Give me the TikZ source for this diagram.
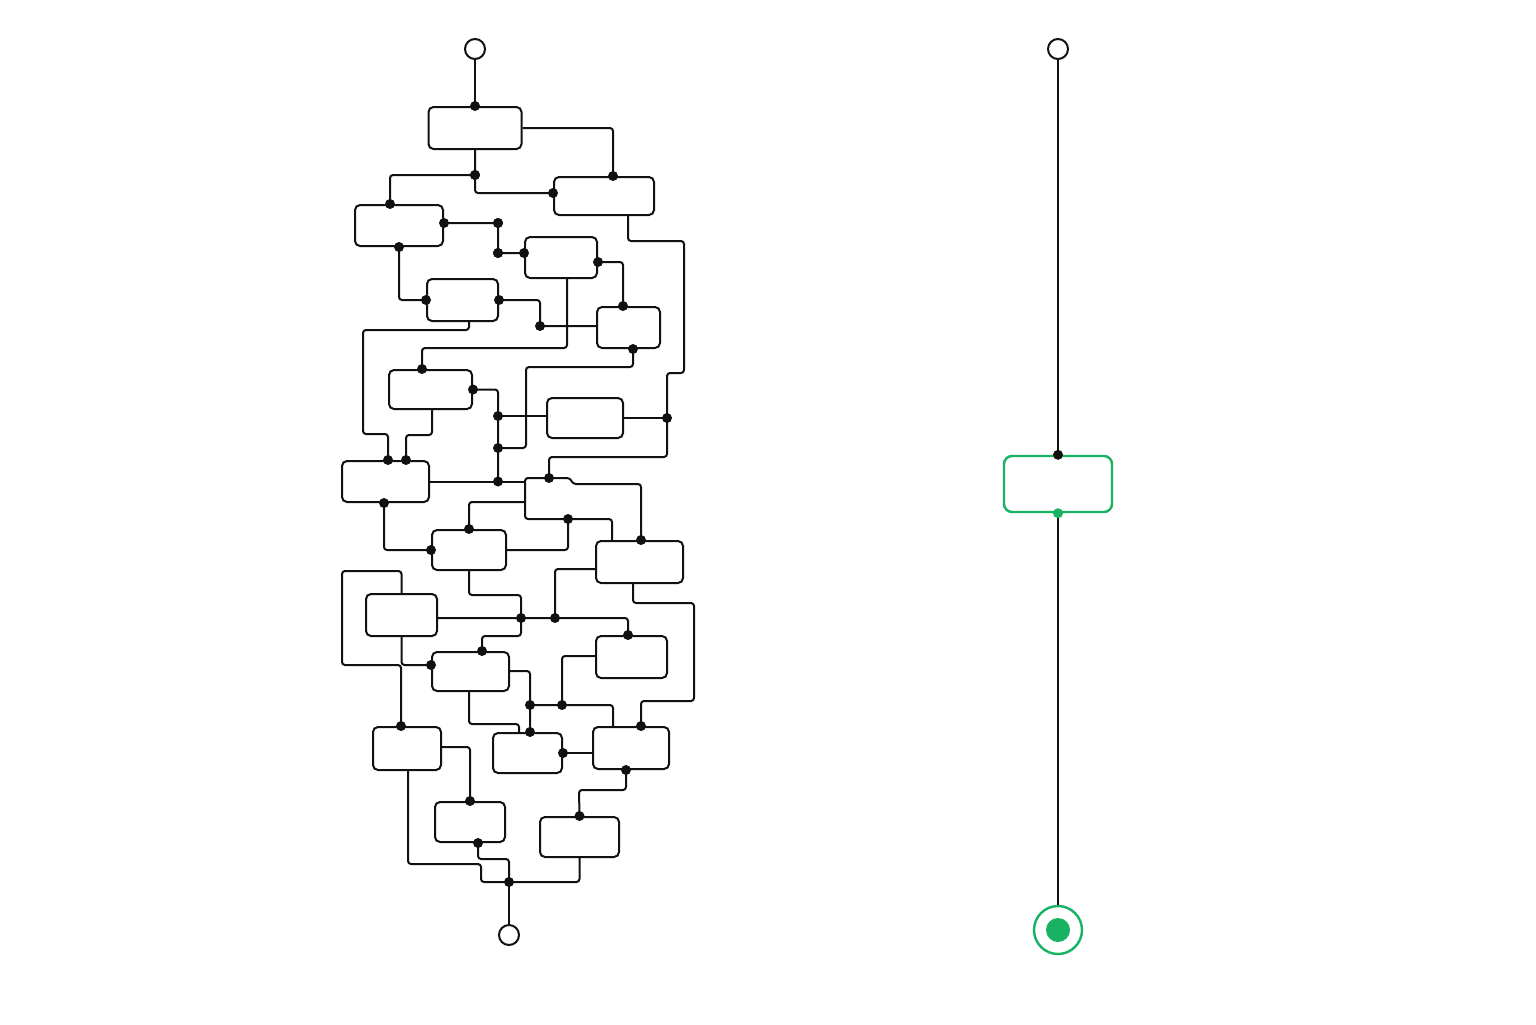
\documentclass[tikz,border=0pt]{standalone}
\usepackage{tikz}
\usetikzlibrary{calc}
\definecolor{okgreen}{RGB}{24,178,98}
\definecolor{ink}{RGB}{17,17,17}
\tikzstyle{block} = [rectangle, draw=ink, line width=1pt, rounded corners=2.5pt, inner sep=0pt]
\tikzstyle{wire} = [draw=ink, line width=1pt, rounded corners=1.5pt]
\tikzstyle{pin} = [circle, fill=ink, inner sep=0pt, minimum size=5pt]
\tikzstyle{port} = [circle, draw=ink, line width=1pt, fill=white, inner sep=0pt, minimum size=10pt]

\begin{document}
\begin{tikzpicture}[x=0.5pt, y=-0.5pt,
    okblock/.style={rectangle, draw=okgreen, line width=1.2pt, rounded corners=4pt,
        minimum width=54pt, minimum height=28pt},
    goal/.style={circle, draw=okgreen, line width=1.2pt, fill=white, minimum size=24pt}
    ]
    \useasboundingbox[fill=white] (0,0) rectangle (1536,1024);

    \node[port] (s1) at (475,49) {};
    \node[block, minimum width=46.5pt, minimum height=21pt] (b1) at (475,128) {};
    \node[block, minimum width=50pt, minimum height=19pt] (b2) at (604,196) {};
    \node[block, minimum width=44pt, minimum height=20.5pt] (b3) at (399,225.5) {};
    \node[block, minimum width=36pt, minimum height=20.5pt] (b4) at (561,257.5) {};
    \node[block, minimum width=35.5pt, minimum height=21pt] (b5) at (462.5,300) {};
    \node[block, minimum width=31.5pt, minimum height=20.5pt] (b6) at (628.5,327.5) {};
    \node[block, minimum width=41.5pt, minimum height=19.5pt] (b7) at (430.5,389.5) {};
    \node[block, minimum width=38pt, minimum height=20pt] (b8) at (585,418) {};
    \node[block, minimum width=43.5pt, minimum height=20.5pt] (b9) at (385.5,481.5) {};
    \node[block, minimum width=37pt, minimum height=20pt] (b10) at (469,550) {};
    \node[block, minimum width=43.5pt, minimum height=21pt] (b11) at (639.5,562) {};
    \node[block, minimum width=35.5pt, minimum height=21pt] (b12) at (401.5,615) {};
    \node[block, minimum width=35.5pt, minimum height=21pt] (b13) at (631.5,657) {};
    \node[block, minimum width=38.5pt, minimum height=19.5pt] (b14) at (470.5,671.5) {};
    \node[block, minimum width=34pt, minimum height=21.5pt] (b15) at (407,748.5) {};
    \node[block, minimum width=38pt, minimum height=21pt] (b16) at (631,748) {};
    \node[block, minimum width=34.5pt, minimum height=20pt] (b17) at (527.5,753) {};
    \node[block, minimum width=35pt, minimum height=20pt] (b18) at (470,822) {};
    \node[block, minimum width=39.5pt, minimum height=20pt] (b19) at (579.5,837) {};
    \node[port] (e1) at (509,935) {};

    \coordinate (j1) at (475,175);
    \coordinate (j2) at (498,223);
    \coordinate (j3) at (498,253);
    \coordinate (j4) at (540,326);
    \coordinate (j5) at (498,416);
    \coordinate (j6) at (498,448);
    \coordinate (j7) at (498,481.5);
    \coordinate (j8) at (667,418);
    \coordinate (j9) at (549,478);
    \coordinate (j10) at (568,519);
    \coordinate (j11) at (521,618);
    \coordinate (j12) at (555,618);
    \coordinate (j13) at (530,705);
    \coordinate (j14) at (562,705);
    \coordinate (j15) at (509,882);

    \draw[wire] (s1) -- (b1.north) node[pin]{};
    \draw[wire] (b1.east) -| ([xshift=4.5pt]b2.north) node[pin]{};
    \draw[wire] (b1.south) -- (j1) node[pin]{} -| ([xshift=-4.5pt]b3.north) node[pin]{};
    \draw[wire] (j1) |- ([yshift=1.5pt]b2.west) node[pin]{};
    \draw[wire] ([yshift=1.25pt]b3.east) node[pin]{} -- (j2) node[pin]{} -- (j3) node[pin]{}
        -- (j3 -| b4.west) node[pin]{};
    \draw[wire] (b3.south) node[pin]{} |- (b5.west) node[pin]{};
    \draw[wire] ([yshift=-2.25pt]b4.east) node[pin]{} -| ([xshift=-2.75pt]b6.north) node[pin]{};
    \draw[wire] ([xshift=3pt]b4.south) -- (567,348) -| ([xshift=-4.25pt]b7.north) node[pin]{};
    \draw[wire] (b5.east) node[pin]{} -| (j4) node[pin]{} -- (j4 -| b6.west);
    \draw[wire] ([xshift=3.25pt]b5.south) -- ++(0,8) -| (363,434)
        -| ([xshift=1.25pt]b9.north) node[pin]{};
    \draw[wire] ([xshift=2.25pt]b6.south) node[pin]{} |- (526,367) |- (j6);
    \draw[wire] (b7.east) node[pin]{} -| (j7);
    \draw[wire] (j5) -- (j5 -| b8.west);
    \draw[wire] ([xshift=0.75pt]b7.south) -- ++(0,25) -| ([xshift=10.25pt]b9.north) node[pin]{};
    \draw[wire] (b8.east) -- (j8);
    \draw[wire] ([xshift=12pt]b2.south) |- (684,241) |- (667,373) -- (j8) node[pin]{}
        |- (549,457) -- (j9);
    \draw[wire] ([xshift=0.75pt]b11.north) node[pin]{} |- (573,484) -- (570,478)
        -| (525,519) -| ([xshift=-13.75pt]b11.north);
    \draw[wire] (b9.east) -- (j7) node[pin]{} -- (525,481.5);
    \draw[wire] (525,502) -| (b10.north) node[pin]{};
    \draw[wire] ([xshift=-0.75pt]b9.south) node[pin]{} |- (b10.west) node[pin]{};
    \draw[wire] (b10.east) -| (j10) node[pin]{};
    \draw[wire] (b10.south) -- ++(0,24) -| (j11);
    \draw[wire] ([yshift=-1.5pt]b12.east) -- (j11) -- (j12)
        -| ([xshift=-1.75pt]b13.north) node[pin]{};
    \draw[wire] ([yshift=-3.5pt]b11.west) -| (j12);
    \draw[wire] ([xshift=-3.25pt]b11.south) |- (694,603) |- (641,701)
        -- ([xshift=5pt]b16.north) node[pin]{};
    \draw[wire] (j11) |- (482,636) -- ([xshift=5.75pt]b14.north) node[pin]{};
    \draw[wire] (b12.north) |- (342,571) |- (401,665) -- ([xshift=-3pt]b15.north) node[pin]{};
    \draw[wire] (b12.south) |- ([yshift=3.25pt]b14.west) node[pin]{};
    \draw[wire] ([yshift=0.25pt]b14.east) -| (j13) -- ([xshift=1.25pt]b17.north) node[pin]{};
    \draw[wire] ([yshift=0.5pt]b13.west) -| (j14);
    \draw[wire] (j13) -- (j14) -| ([xshift=-9pt]b16.north);
    \draw[wire] ([xshift=-0.75pt]b14.south) -- ++(0,32) -| ([xshift=-4.25pt]b17.north);
    \draw[wire] ([yshift=0.75pt]b15.east) -| (b18.north) node[pin]{};
    \draw[wire] (b17.east) node[pin]{} -- (b17.east -| b16.west);
    \draw[wire] ([xshift=-2.5pt]b16.south) node[pin]{} |- (579,790) -- (b19.north) node[pin]{};
    \draw[wire] ([xshift=0.5pt]b15.south) |- (481,864) |- (j15);
    \draw[wire] ([xshift=4pt]b18.south) node[pin]{} |- (509,859) -- (j15);
    \draw[wire] (b19.south) |- (j15);
    \draw[wire] (j15) -- (e1);
    \foreach \j in {j1,j2,j3,j5,j6,j9,j11,j12,j13,j14,j15}
        \node[pin] at (\j) {};

    \node[port] (s2) at (1058,49) {};
    \node[okblock] (g) at (1058,484) {};
    \node[goal] (t) at (1058,930) {};
    \fill[okgreen] (t) circle (6pt);
    \draw[wire] (s2) -- (g.north) node[pin]{};
    \draw[wire] (g.south) -- (t.north);
    \node[pin, fill=okgreen] at (g.south) {};
\end{tikzpicture}
\end{document}
